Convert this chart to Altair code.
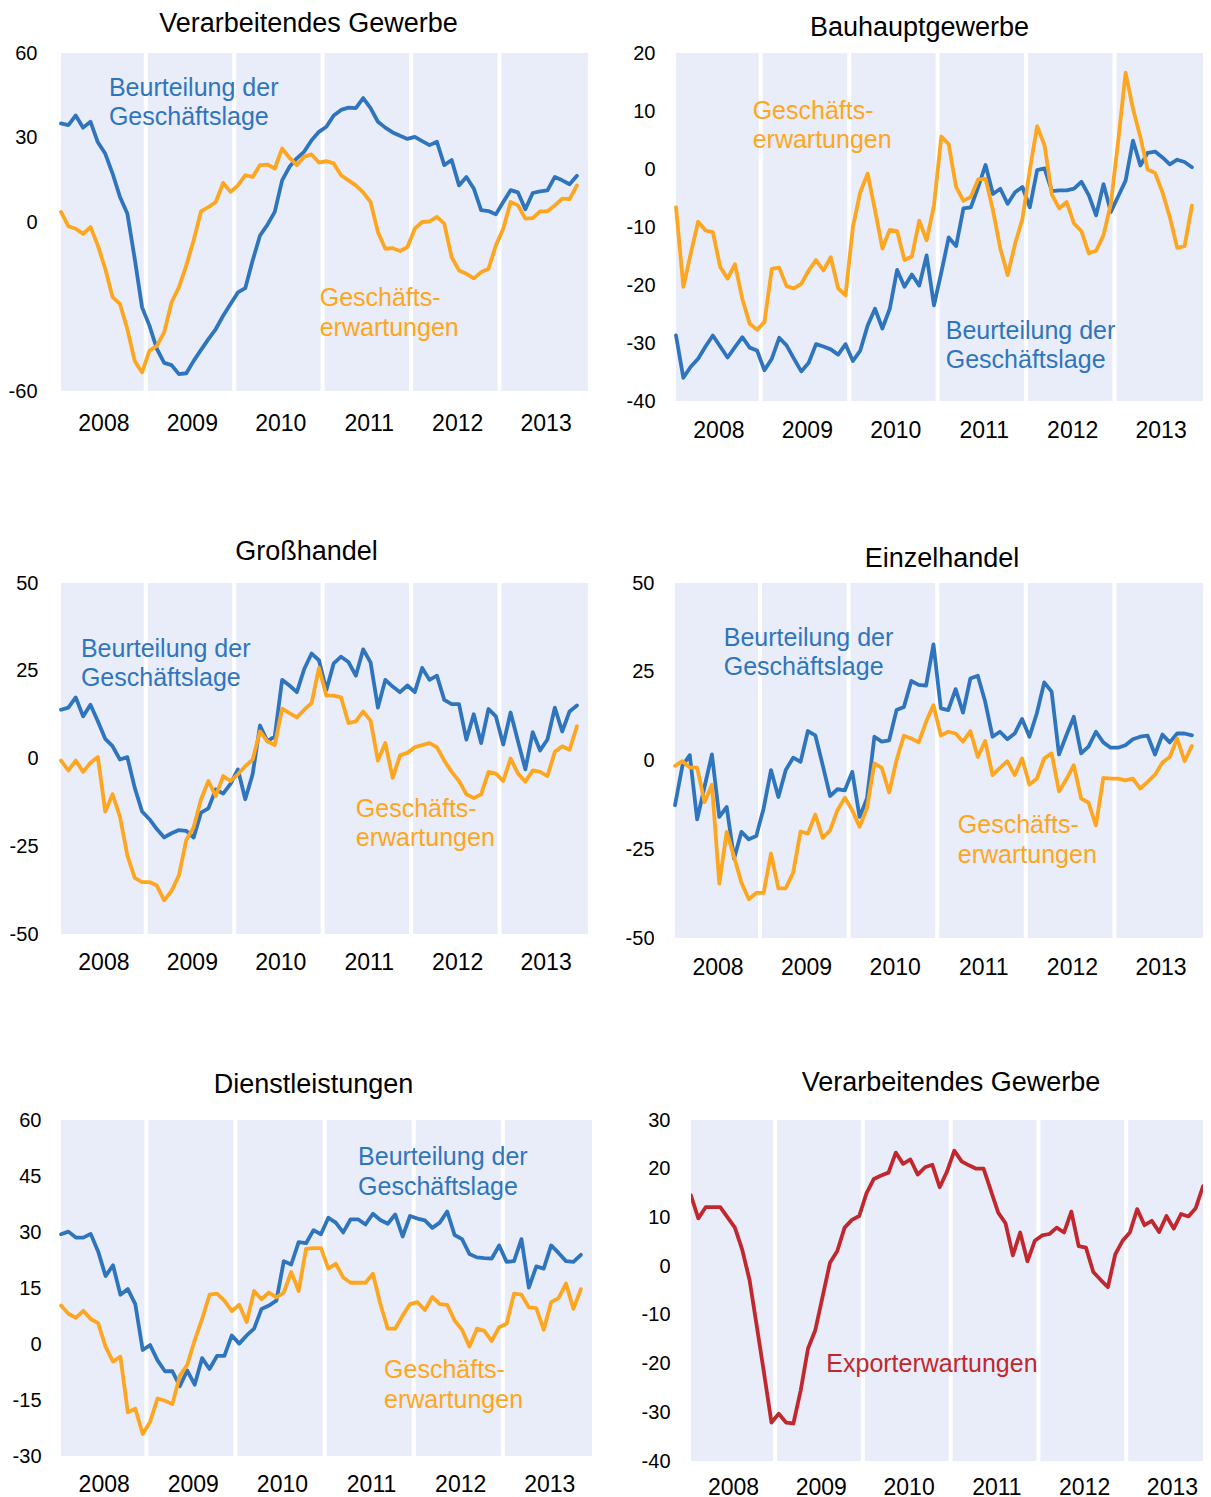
import altair as alt
import pandas as pd

# ---------------- data ----------------
YEARS = ["2008", "2009", "2010", "2011", "2012", "2013"]
MONTH_INDEX = list(range(71))          # Jan 2008 ... Nov 2013
YEAR_BOUNDARIES = [11.5, 23.5, 35.5, 47.5, 59.5]
YEAR_CENTERS = [5.75, 17.75, 29.75, 41.75, 53.75, 65.75]

LAGE = "Beurteilung der\nGeschäftslage"
ERW = "Geschäfts-\nerwartungen"
EXP = "Exporterwartungen"

# Verarbeitendes Gewerbe
p1_lage = [35.0, 34.4, 37.8, 33.5, 35.6, 28.3, 24.3, 17.2, 8.9, 3.0,
           -13.0, -30.3, -36.8, -45.0, -50.0, -50.8, -54.0, -53.7, -49.3, -45.4,
           -41.6, -38.0, -33.3, -29.1, -25.0, -23.5, -13.7, -4.8, -1.0, 3.6,
           14.8, 19.6, 22.6, 25.0, 29.0, 32.0, 33.8, 37.8, 39.8, 40.6,
           40.4, 44.0, 40.4, 35.6, 33.5, 31.8, 30.6, 29.5, 30.2, 28.7,
           27.3, 28.5, 20.2, 22.0, 13.0, 16.0, 11.9, 4.2, 3.9, 2.7,
           7.1, 11.3, 10.5, 4.5, 10.3, 10.9, 11.2, 16.0, 14.8, 13.4, 16.4]
p1_erw = [3.6, -1.5, -2.4, -4.2, -1.8, -8.3, -16.6, -26.7, -29.1, -38.0,
          -49.3, -53.4, -45.7, -44.0, -39.2, -28.5, -23.2, -15.4, -6.5, 3.8,
          5.3, 7.1, 13.9, 10.7, 13.0, 16.6, 16.0, 20.2, 20.4, 19.0,
          26.1, 22.8, 20.2, 23.2, 24.0, 21.1, 21.6, 20.8, 16.6, 14.8,
          13.0, 10.5, 7.1, -3.6, -9.5, -9.3, -10.3, -8.9, -2.4, 0.0,
          0.2, 1.8, -0.6, -12.5, -17.2, -18.4, -20.0, -17.8, -16.6, -8.3,
          -2.4, 7.1, 5.9, 1.2, 1.4, 3.8, 3.8, 5.9, 8.3, 8.1, 13.0]

# Bauhauptgewerbe
p2_lage = [-28.7, -36.0, -34.1, -32.7, -30.6, -28.7, -30.6, -32.5, -30.7, -29.0,
           -30.8, -31.3, -34.7, -32.7, -29.1, -30.4, -32.7, -34.9, -33.4, -30.2,
           -30.6, -31.1, -32.0, -30.2, -33.1, -31.3, -27.0, -24.1, -27.5, -24.1,
           -17.4, -20.3, -18.2, -20.1, -14.9, -23.5, -17.8, -11.8, -13.3, -6.8,
           -6.6, -3.1, 0.7, -4.3, -3.4, -6.0, -4.0, -3.1, -6.6, -0.2,
           0.1, -3.8, -3.7, -3.7, -3.4, -2.2, -4.5, -8.0, -2.6, -7.4,
           -4.7, -2.0, 4.9, 0.6, 2.8, 3.0, 2.0, 0.8, 1.6, 1.2, 0.3]
p2_erw = [-6.6, -20.3, -14.6, -9.1, -10.6, -10.9, -16.9, -18.9, -16.4, -22.4,
          -26.7, -27.7, -26.4, -17.2, -17.0, -20.2, -20.6, -19.8, -17.5, -15.7,
          -17.5, -15.2, -20.6, -21.8, -10.0, -4.0, -0.8, -7.1, -13.7, -10.5,
          -10.7, -15.7, -15.1, -8.9, -12.3, -6.3, 5.6, 4.3, -3.1, -5.5,
          -4.8, -1.8, -1.7, -7.1, -13.7, -18.3, -12.9, -8.6, -0.2, 7.4,
          4.1, -4.4, -6.8, -5.7, -9.4, -10.7, -14.5, -14.1, -11.4, -6.0,
          4.9, 16.6, 10.4, 5.5, -0.1, -0.7, -4.0, -8.3, -13.6, -13.3, -6.3]

# Großhandel
p3_lage = [13.9, 14.5, 17.4, 12.0, 15.3, 10.6, 5.6, 3.5, -0.3, 0.4,
           -8.3, -15.1, -17.3, -20.1, -22.5, -21.3, -20.4, -20.6, -22.5, -15.4,
           -14.2, -8.8, -10.0, -7.2, -3.1, -11.6, -4.5, 9.4, 4.9, 6.3,
           22.4, 20.8, 18.9, 25.5, 29.9, 28.0, 19.5, 27.1, 29.0, 27.5,
           23.6, 31.1, 27.4, 14.5, 22.4, 20.5, 18.9, 20.8, 18.9, 25.8,
           22.4, 23.6, 16.7, 15.5, 15.5, 5.4, 12.6, 4.4, 14.1, 12.0,
           4.0, 13.1, 4.9, -3.1, 7.5, 2.3, 5.4, 14.5, 7.7, 13.4, 15.1]
p3_erw = [-0.6, -3.4, -0.6, -3.8, -1.2, 0.4, -15.1, -10.2, -16.6, -27.6,
          -34.0, -35.2, -35.2, -36.2, -40.4, -37.7, -33.3, -23.2, -19.6, -11.6,
          -6.4, -10.7, -5.0, -6.4, -4.5, -2.2, -0.3, 7.7, 4.9, 3.8,
          14.2, 12.9, 11.7, 13.9, 15.8, 25.8, 17.9, 17.9, 17.4, 10.1,
          10.6, 13.4, 10.8, -0.6, 4.4, -5.5, 0.9, 1.6, 3.2, 3.8,
          4.4, 3.2, -0.6, -3.8, -6.4, -10.2, -11.3, -10.2, -3.8, -4.3,
          -6.4, 0.0, -4.3, -6.6, -3.4, -3.8, -5.0, 1.9, 3.5, 2.5, 9.2]

# Einzelhandel
p4_lage = [-12.6, -1.5, 1.5, -16.6, -7.4, 1.7, -15.9, -13.1, -27.7, -20.1,
           -22.2, -21.3, -13.5, -2.7, -10.3, -2.7, 0.8, -0.4, 8.3, 7.1,
           -1.3, -10.0, -8.1, -8.4, -3.2, -15.9, -10.7, 6.7, 5.3, 5.7,
           14.2, 15.1, 22.4, 21.3, 21.1, 32.7, 14.7, 14.2, 20.1, 13.5,
           23.1, 23.9, 16.6, 6.7, 8.1, 6.0, 7.6, 11.7, 6.7, 13.3,
           22.0, 19.4, 1.7, 7.1, 12.3, 2.0, 3.9, 8.1, 5.1, 3.6,
           3.6, 4.3, 6.0, 6.7, 7.0, 1.7, 7.3, 5.1, 7.6, 7.6, 7.1]
p4_erw = [-1.5, -0.2, -2.0, -2.0, -11.7, -6.8, -34.7, -20.1, -27.2, -34.4,
          -39.1, -37.3, -37.3, -26.2, -36.0, -36.0, -31.6, -20.0, -20.6, -15.2,
          -21.8, -19.7, -14.0, -10.5, -14.0, -18.7, -13.4, -0.8, -2.1, -9.0,
          0.1, 7.0, 6.2, 5.1, 10.9, 15.6, 7.0, 8.1, 7.6, 5.3,
          8.3, 1.0, 5.5, -4.1, -2.1, -0.2, -4.1, 0.6, -6.8, -5.1,
          0.6, 2.0, -8.7, -5.3, -1.3, -10.7, -11.9, -18.3, -4.9, -5.1,
          -5.1, -5.6, -5.1, -7.9, -6.0, -4.0, -0.6, 1.0, 6.2, -0.2, 4.1]

# Dienstleistungen
p5_lage = [29.4, 30.1, 28.5, 28.5, 29.5, 24.8, 18.2, 21.1, 13.2, 14.7,
           10.7, -1.6, -0.3, -4.4, -7.3, -7.3, -11.3, -7.1, -10.9, -3.8,
           -6.7, -3.2, -3.2, 2.3, 0.1, 2.3, 4.1, 9.4, 10.3, 11.6,
           22.2, 21.3, 27.3, 27.0, 30.5, 29.4, 33.8, 32.5, 29.9, 33.4,
           33.4, 32.0, 34.9, 33.2, 32.2, 34.7, 28.8, 34.3, 33.6, 33.1,
           31.1, 32.5, 35.5, 29.2, 28.1, 24.1, 23.2, 23.0, 22.9, 26.4,
           22.0, 22.2, 28.1, 15.1, 20.8, 20.2, 26.4, 24.4, 22.2, 22.0, 23.9]
p5_erw = [10.3, 8.1, 7.0, 8.9, 6.7, 5.6, -0.7, -4.7, -3.4, -18.3,
          -17.3, -24.1, -20.8, -14.6, -15.2, -16.1, -8.5, -5.6, 1.0, 6.7,
          13.2, 13.5, 11.6, 8.8, 10.5, 5.9, 14.2, 12.0, 13.8, 12.5,
          13.8, 19.3, 14.2, 25.5, 25.7, 25.7, 20.2, 21.5, 17.8, 16.4,
          16.4, 16.4, 18.8, 10.7, 4.1, 4.1, 7.6, 10.7, 11.2, 9.1,
          12.6, 10.7, 10.5, 6.3, 3.8, -0.7, 4.1, 3.5, 0.8, 4.5,
          5.4, 13.5, 13.2, 9.8, 9.6, 3.8, 11.2, 12.3, 16.2, 9.4, 14.7]

# Verarbeitendes Gewerbe – Exporterwartungen
p6_exp = [14.5, 9.8, 12.1, 12.1, 12.1, 10.0, 7.9, 3.4, -2.8, -12.4,
          -22.1, -32.1, -30.3, -32.1, -32.3, -25.5, -16.9, -13.1, -6.2, 0.7,
          3.1, 7.9, 9.5, 10.3, 15.0, 17.9, 18.6, 19.2, 23.3, 21.0,
          21.9, 18.8, 20.3, 20.8, 16.2, 19.4, 23.7, 21.5, 20.7, 20.0,
          20.0, 15.5, 11.0, 8.8, 2.2, 6.9, 1.0, 5.2, 6.3, 6.6,
          7.9, 6.9, 11.2, 4.1, 3.8, -1.2, -2.8, -4.3, 2.4, 5.2,
          6.9, 11.7, 8.4, 9.3, 7.0, 10.3, 7.7, 10.7, 10.2, 11.9, 16.4]

# annotation anchor points (month index, value of first text baseline)
ANN = {
    1: [(LAGE, 6.5, 44.9), (ERW, 35.1, -29.9)],
    2: [(ERW, 10.4, 8.7), (LAGE, 36.6, -29.3)],
    3: [(LAGE, 2.7, 29.0), (ERW, 40.0, -16.6)],
    4: [(LAGE, 6.6, 32.3), (ERW, 38.3, -20.5)],
    5: [(LAGE, 40.0, 47.9), (ERW, 43.5, -9.2)],
    6: [(EXP, 18.5, -21.7)],
}

# ---------------- style ----------------
BLUE = "#2F75BE"
ORANGE = "#FFA620"
RED = "#C0282D"
BG = "#E9EDF9"
FONT = "Liberation Sans"
COLOR_MAP = {LAGE: BLUE, ERW: ORANGE, EXP: RED}


def panel(key, title, series, yvals, ydom, w, h, t_off, t_dx, xpad, ypad,
          xmax=71.5, hide=None, clip=False):
    rows = []
    for name, vals in series:
        for m, v in zip(MONTH_INDEX, vals):
            rows.append({"m": m, "v": v, "s": name, "c": COLOR_MAP[name]})
    df = pd.DataFrame(rows)
    ann = pd.DataFrame([{"s": s, "x": x, "y": y, "c": COLOR_MAP[s]}
                        for s, x, y in ANN[key]])
    color = alt.Color("c:N", scale=None, legend=None)
    xscale = alt.Scale(domain=[0, xmax], nice=False, zero=False)
    yscale = alt.Scale(domain=ydom, nice=False, zero=False)
    year_expr = "[" + ",".join("'%s'" % y for y in YEARS) + "][floor(datum.value / 12)]"
    xaxis = alt.Axis(title=None, values=YEAR_CENTERS, labelExpr=year_expr,
                     grid=False, domain=False, ticks=False, tickSize=0,
                     labelFontSize=23, labelFont=FONT, labelColor="black",
                     labelPadding=xpad, labelAngle=0)
    if hide is not None:
        yexpr = "datum.value == %d ? '' : '' + datum.value" % hide
    else:
        yexpr = "'' + datum.value"
    yaxis = alt.Axis(title=None, values=yvals, labelExpr=yexpr, grid=False,
                     domain=False, ticks=False, tickSize=0, labelFontSize=20,
                     labelFont=FONT, labelColor="black", labelPadding=ypad)

    seps = alt.Chart(pd.DataFrame({"b": YEAR_BOUNDARIES})).mark_rule(
        color="white", strokeWidth=4).encode(
        x=alt.X("b:Q", scale=xscale, axis=xaxis))
    lines = alt.Chart(df).mark_line(strokeWidth=3.8, strokeJoin="round",
                                    strokeCap="round", clip=clip).encode(
        x=alt.X("m:Q", scale=xscale, axis=xaxis),
        y=alt.Y("v:Q", scale=yscale, axis=yaxis),
        color=color, detail="s:N")
    texts = alt.Chart(ann).mark_text(align="left", baseline="alphabetic",
                                     fontSize=25, font=FONT, lineBreak="\n",
                                     lineHeight=29.5).encode(
        x=alt.X("x:Q", scale=xscale, axis=xaxis),
        y=alt.Y("y:Q", scale=yscale, axis=yaxis),
        text="s:N", color=color)
    return alt.layer(seps, lines, texts).properties(
        width=w, height=h,
        title=alt.TitleParams(text=title, fontSize=27, font=FONT,
                              fontWeight="normal", color="black",
                              offset=t_off, dx=t_dx, frame="group",
                              anchor="middle"))


c1 = panel(1, "Verarbeitendes Gewerbe", [(LAGE, p1_lage), (ERW, p1_erw)],
           [60, 30, 0, -30, -60], [-60, 60], 527, 338, 5, -16, 21, 24, hide=-30)
c2 = panel(2, "Bauhauptgewerbe", [(LAGE, p2_lage), (ERW, p2_erw)],
           [20, 10, 0, -10, -20, -30, -40], [-40, 20], 527, 348, 1, -20, 18, 21)
c3 = panel(3, "Großhandel", [(LAGE, p3_lage), (ERW, p3_erw)],
           [50, 25, 0, -25, -50], [-50, 50], 527, 351, 7, -18, 17, 23)
c4 = panel(4, "Einzelhandel", [(LAGE, p4_lage), (ERW, p4_erw)],
           [50, 25, 0, -25, -50], [-50, 50], 528, 355, 0, 3, 18, 21)
c5 = panel(5, "Dienstleistungen", [(LAGE, p5_lage), (ERW, p5_erw)],
           [60, 45, 30, 15, 0, -15, -30], [-30, 60], 531, 336, 11, -13, 17, 20)
c6 = panel(6, "Verarbeitendes Gewerbe", [(EXP, p6_exp)],
           [30, 20, 10, 0, -10, -20, -30, -40], [-40, 30], 512, 341, 13, 4, 15, 21,
           xmax=70, clip=True)

row1 = alt.hconcat(c1, c2, spacing=38)
row2 = alt.hconcat(c3, c4, spacing=37)
row3 = alt.hconcat(c5, c6, spacing=49)

chart = alt.vconcat(alt.vconcat(row1, row2, spacing=96), row3, spacing=90).properties(
    padding={"left": 0, "top": 2, "right": 0, "bottom": 0}
).configure_view(fill=BG, strokeWidth=0)

chart.save("out.html", embed_options={"renderer": "svg", "actions": False})
